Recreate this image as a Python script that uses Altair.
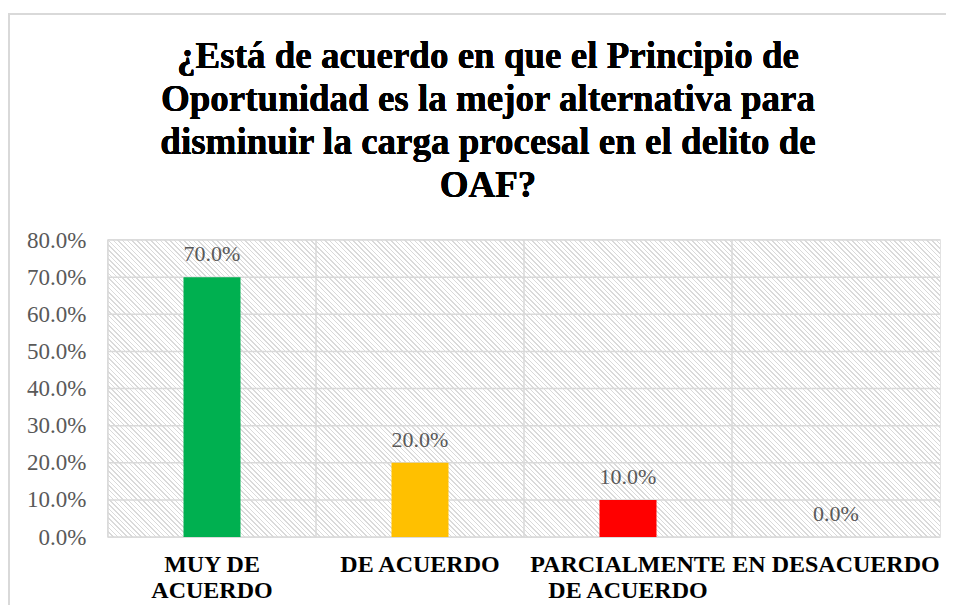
import altair as alt
import pandas as pd

categories = ["MUY DE\nACUERDO", "DE ACUERDO", "PARCIALMENTE\nDE ACUERDO", "EN DESACUERDO"]
values = [0.70, 0.20, 0.10, 0.00]
colors = ["#00B050", "#FFC000", "#FF0000", "#FF0000"]
y_ticks = [0, 0.1, 0.2, 0.3, 0.4, 0.5, 0.6, 0.7, 0.8]
title_lines = ["¿Está de acuerdo en que el Principio de",
               "Oportunidad es la mejor alternativa para",
               "disminuir la carga procesal en el delito de",
               "OAF?"]

W, H = 832, 297
df = pd.DataFrame({"cat": categories, "val": values, "color": colors})
ticks_df = pd.DataFrame({"val": y_ticks})

# hatch pattern approximated by a striped linear gradient
d = (1.0 / H, -1.0 / W)
k = (d[0] - d[1]) / (d[0] ** 2 + d[1] ** 2)
x2, y2 = k * d[0], 1 + k * d[1]
N = 240
f = 0.32
stops = []
for i in range(N):
    stops.append({"offset": round(i / N, 5), "color": "#dadada"})
    stops.append({"offset": round((i + f) / N, 5), "color": "#dadada"})
    stops.append({"offset": round((i + f) / N, 5), "color": "#ffffff"})
    stops.append({"offset": round((i + 1) / N, 5), "color": "#ffffff"})
hatch = {"gradient": "linear", "x1": 0, "y1": 1, "x2": x2, "y2": y2, "stops": stops}

FONT = "Liberation Serif"
GRID = "#d9d9d9"
xscale = alt.Scale(domain=categories, paddingInner=0, paddingOuter=0)
yscale = alt.Scale(domain=[0, 0.8], nice=False)

xaxis = alt.Axis(labelAngle=0, labelExpr="split(datum.label, '\\n')",
                 labelFont=FONT, labelFontSize=24, labelFontWeight="bold",
                 labelColor="#000000", labelLineHeight=26, labelPadding=15,
                 labelLimit=0, labelOverlap=False, ticks=False, domain=False,
                 grid=False, bandPosition=0.5, labelAlign="center",
                 labelFlush=False, labelBound=False)
yaxis = alt.Axis(values=y_ticks, format=".1%", labelOverlap=False,
                 labelFont=FONT, labelFontSize=23, labelColor="#595959",
                 labelPadding=22, ticks=False, domain=False, grid=False)

bg = alt.Chart(df).mark_rect(fill=hatch).encode(
    x=alt.value(0), x2=alt.value(W), y=alt.value(0), y2=alt.value(H))
hgrid = alt.Chart(ticks_df).mark_rule(color=GRID, strokeWidth=1.5).encode(
    y=alt.Y("val:Q", scale=yscale, title=None, axis=yaxis),
    x=alt.value(0), x2=alt.value(W))
vgrid = alt.Chart(df).mark_rule(color=GRID, strokeWidth=1.5).encode(
    x=alt.X("cat:N", sort=categories, scale=xscale, bandPosition=0, title=None, axis=xaxis),
    y=alt.value(0), y2=alt.value(H))
bars = alt.Chart(df).mark_bar(width=57).encode(
    x=alt.X("cat:N", sort=categories, scale=xscale, title=None, axis=xaxis),
    y=alt.Y("val:Q", scale=yscale, title=None, axis=yaxis),
    color=alt.Color("color:N", scale=None))
labels = alt.Chart(df).mark_text(font=FONT, fontSize=22, color="#595959",
                                 baseline="alphabetic", dy=-16).encode(
    x=alt.X("cat:N", sort=categories, scale=xscale, title=None, axis=xaxis),
    y=alt.Y("val:Q", scale=yscale, title=None, axis=yaxis),
    text=alt.Text("val:Q", format=".1%"))
frame = alt.Chart(df).mark_rect(fill=None, stroke=GRID, strokeWidth=1.5).encode(
    x=alt.value(-99), x2=alt.value(W + 40), y=alt.value(-226), y2=alt.value(H + 120))
title = alt.Chart(df).mark_text(text=title_lines, font=FONT, fontSize=37, fontWeight="bold",
                                color="#000000", lineHeight=43, align="center",
                                baseline="alphabetic").encode(
    x=alt.value(380), y=alt.value(68 - 240))

chart = alt.layer(frame, bg, hgrid, vgrid, bars, labels, title).properties(
    width=W, height=H,
    autosize=alt.AutoSizeParams(type="none"),
    padding={"left": 100, "top": 232, "right": 6, "bottom": 68},
).configure_view(stroke=GRID, strokeWidth=1.5)

chart.save("out.html", embed_options={"renderer": "svg", "actions": False})
